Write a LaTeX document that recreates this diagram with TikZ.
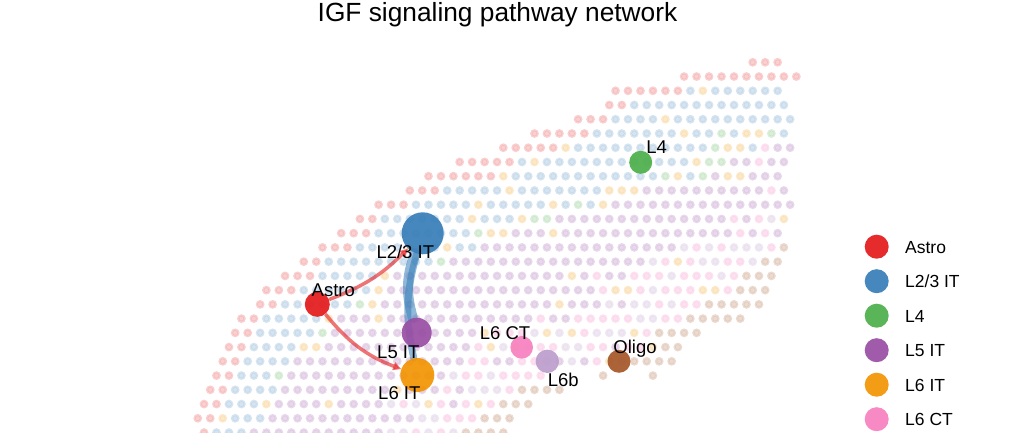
\documentclass[tikz,border=0pt]{standalone}
\usepackage{fontspec}
\setmainfont{Liberation Sans}
\usetikzlibrary{arrows.meta}
\pgfdeclarelayer{bg}
\pgfdeclarelayer{edges}
\pgfsetlayers{bg,edges,main}
\definecolor{cAstro}{HTML}{E41A1C}
\definecolor{cLtwo}{HTML}{377EB8}
\definecolor{cLfour}{HTML}{4DAF4A}
\definecolor{cLfive}{HTML}{984EA3}
\definecolor{cLsix}{HTML}{F29403}
\definecolor{cLsixCT}{HTML}{F781BF}
\definecolor{cLsixb}{HTML}{BC9DCC}
\definecolor{cOligo}{HTML}{A65628}
\colorlet{sR}{cAstro!21!white}\colorlet{sRr}{cAstro!31!white}
\colorlet{sB}{cLtwo!21!white}\colorlet{sBr}{cLtwo!31!white}
\colorlet{sG}{cLfour!21!white}\colorlet{sGr}{cLfour!31!white}
\colorlet{sP}{cLfive!22!white}\colorlet{sPr}{cLfive!32!white}
\colorlet{sO}{cLsix!21!white}\colorlet{sOr}{cLsix!31!white}
\colorlet{sC}{cLsixCT!24!white}\colorlet{sCr}{cLsixCT!34!white}
\colorlet{sL}{cLsixb!24!white}\colorlet{sLr}{cLsixb!34!white}
\colorlet{sT}{cOligo!22!white}\colorlet{sTr}{cOligo!32!white}
\newcommand\spotcolor{%
  \def\dc{sP}%
  \pgfmathtruncatemacro\spA{\nR+\nB}%
  \pgfmathtruncatemacro\spB{\nR+\nB+\nM}%
  \pgfmathtruncatemacro\spC{\nT+\nP}%
  \ifnum\ii<\nR\relax \def\dc{sR}%
  \else\ifnum\ii<\spA\relax \def\dc{sB}\ifdim\hh pt<0.07pt\def\dc{sO}\fi
  \else\ifnum\ii<\spB\relax
     \ifdim\hh pt<0.45pt\def\dc{sO}\else\ifdim\hh pt<0.75pt\def\dc{sG}\else\def\dc{sB}\fi\fi
  \else\ifnum\jj<\nT\relax \def\dc{sT}%
  \else\ifnum\jj<\spC\relax
     \ifdim\hh pt<0.5pt\def\dc{sC}\else\ifdim\hh pt<0.8pt\def\dc{sL}\else\ifdim\hh pt<0.9pt\def\dc{sP}\else\def\dc{sO}\fi\fi\fi
  \else
     \ifdim\hh pt<0.05pt\def\dc{sO}\else\ifdim\hh pt<0.08pt\def\dc{sC}\fi\fi
  \fi\fi\fi\fi\fi}
\begin{document}
\begin{tikzpicture}[x=1pt,y=-1pt,
  lab/.style={font=\fontsize{18.5}{20}\selectfont, anchor=base, inner sep=0pt},
  legtxt/.style={font=\fontsize{17.5}{20}\selectfont, anchor=base west, inner sep=0pt},
  cell/.style={circle, inner sep=0pt, minimum size=#1, fill opacity=0.92},
  rededge/.style={draw=cAstro, opacity=0.6, line width=3.5pt, -{Triangle[length=8pt,width=8pt]}},
  blueedge/.style={draw=cLtwo, opacity=0.55, line cap=round}]
\useasboundingbox (0,0) rectangle (1018,433);
\begin{pgfonlayer}{bg}
\fill[white] (0,0) rectangle (1018,433);
\pgfmathsetseed{7}
\foreach \rr/\kmin/\kmax/\nR/\nB/\nM/\nP/\nT in {
 0/0/2/3/0/0/0/0, 1/-6/3/10/0/0/0/0, 2/-11/2/6/8/0/0/0, 3/-12/2/2/13/0/0/0,
 4/-14/3/3/15/0/0/0, 5/-18/2/5/10/6/0/0, 6/-20/3/5/11/5/0/0, 7/-24/2/5/14/3/0/0,
 8/-26/2/6/13/4/0/0, 9/-28/2/3/13/3/0/0, 10/-30/3/3/11/5/1/0, 11/-32/2/2/10/4/3/0,
 12/-33/2/3/8/3/4/0, 13/-35/2/3/7/3/8/1, 14/-36/2/2/9/1/9/2, 15/-38/1/3/4/2/9/3,
 16/-39/1/3/6/1/11/3, 17/-40/0/2/6/2/9/5, 18/-41/-1/2/5/1/11/5, 19/-42/-5/2/5/1/12/4,
 20/-42/-6/2/4/1/15/2, 21/-43/-7/2/3/1/13/4, 22/-43/-17/2/3/1/8/0, 23/-44/-16/2/4/0/7/4,
 24/-44/-18/2/3/1/9/3, 25/-45/-20/2/3/1/6/3, 26/-44/-20/1/3/0/6/4} {
  \pgfmathsetmacro\yy{62.3+14.24*\rr}
  \pgfmathsetmacro\bx{752.7+6.235*mod(\rr,2)}
  \foreach \kk in {\kmin,...,\kmax} {
    \pgfmathtruncatemacro\ii{\kk-\kmin}
    \pgfmathtruncatemacro\jj{\kmax-\kk}
    \pgfmathsetmacro\hh{rnd}
    \spotcolor
    \fill[\dc] (\bx+12.47*\kk,\yy) circle[radius=4.4];
    \draw[\dc r, line width=0.5pt] (\bx+12.47*\kk,\yy) circle[radius=2.5];
  }
}
\foreach \xx in {603.1,652.9} {
  \fill[sT] (\xx,375.6) circle[radius=4.4];
  \draw[sTr, line width=0.5pt] (\xx,375.6) circle[radius=2.5];
}
\end{pgfonlayer}
% title
\node[font=\fontsize{26.3}{29}\selectfont, anchor=base, inner sep=0pt] (title) at (497.5,22) {IGF signaling pathway network};
% cell group nodes
\node[cell=25pt, fill=cAstro] (astro) at (317.3,304.3) {};
\node[cell=42pt, fill=cLtwo] (l23) at (422.7,233.3) {};
\node[cell=23pt, fill=cLfour] (l4) at (640.7,162.3) {};
\node[cell=30pt, fill=cLfive] (l5) at (416.7,332.7) {};
\node[cell=34pt, fill=cLsix] (l6) at (417.3,375) {};
\node[cell=22.6pt, fill=cLsixCT] (l6ct) at (521.7,347.3) {};
\node[cell=23.4pt, fill=cLsixb] (l6b) at (547.3,361.3) {};
\node[cell=23pt, fill=cOligo] (oligo) at (619,361.3) {};
% edges
\begin{pgfonlayer}{edges}
\draw[blueedge, line width=10pt] (l23) to[bend right=18] (l5);
\draw[blueedge, line width=7pt] (l23) to[bend right=14] (l6);
\draw[rededge] (astro) to[bend right=12] (l23);
\draw[rededge] (astro) to[bend right=15] (l6);
\end{pgfonlayer}
% labels
\node[lab] (tAstro) at (333.3,296) {Astro};
\node[lab] (tL23) at (405.3,258) {L2/3 IT};
\node[lab] (tL4) at (656.7,153.3) {L4};
\node[lab] (tL5) at (398.3,358) {L5 IT};
\node[lab] (tL6) at (399.3,399) {L6 IT};
\node[lab] (tL6ct) at (505,339) {L6 CT};
\node[lab] (tL6b) at (563.3,386) {L6b};
\node[lab] (tOligo) at (635,353) {Oligo};
% legend
\foreach \nm/\cc/\tx [count=\ci from 0] in {a/cAstro/{Astro}, b/cLtwo/{L2/3 IT}, c/cLfour/{L4}, d/cLfive/{L5 IT}, e/cLsix/{L6 IT}, f/cLsixCT/{L6 CT}} {
  \node[cell=24pt, fill=\cc] (leg\nm) at (876.7,246.7+34.5*\ci) {};
  \node[legtxt] (legt\nm) at (905,253.3+34.5*\ci) {\tx};
}
\end{tikzpicture}
\end{document}
